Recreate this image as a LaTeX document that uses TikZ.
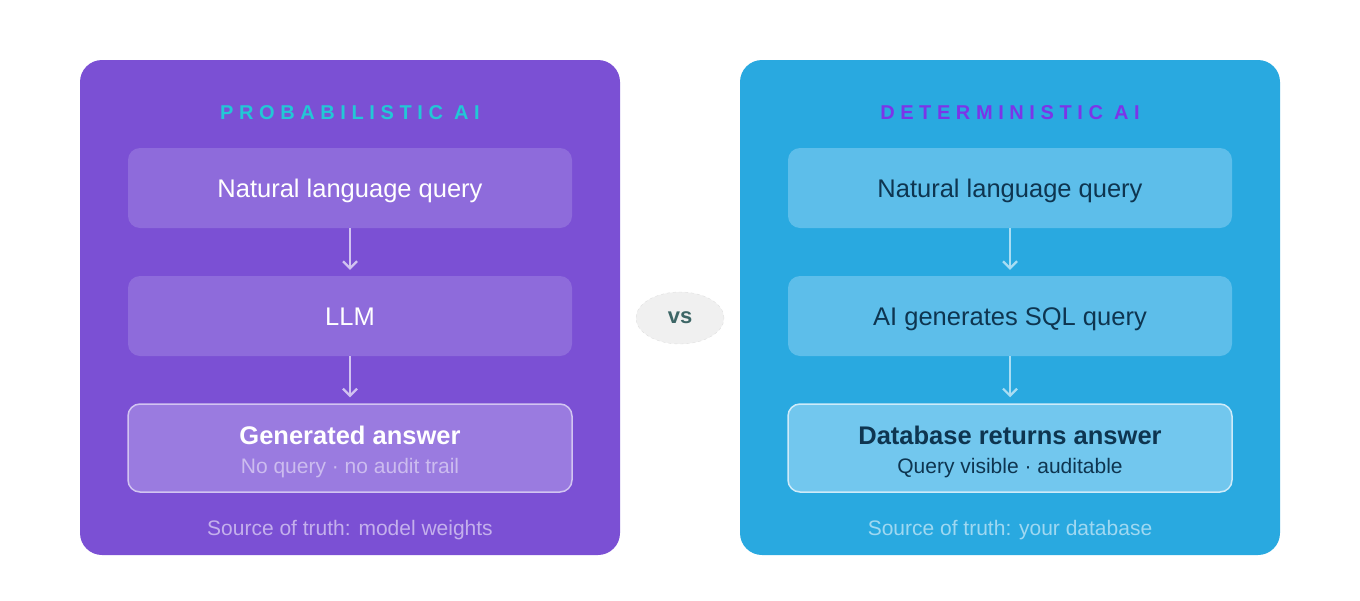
\documentclass[tikz,border=0pt]{standalone}
\usepackage{fontspec}
\usetikzlibrary{arrows.meta,shapes.geometric}
\setmainfont{Liberation Sans}
\newfontfamily\spaced[LetterSpace=28]{Liberation Sans}
\begin{document}
\begin{tikzpicture}[x=1pt,y=-1pt,
 panel/.style={rounded corners=22pt},
 box/.style={rounded corners=12pt,minimum width=444pt,minimum height=80pt,inner sep=0pt,text height=18pt,text depth=0pt},
 arr/.style={-{Straight Barb[length=7pt,width=14pt,line width=2.2pt]},line width=2.2pt,shorten >=6pt},
 big/.style={font=\fontsize{25.5}{30}\selectfont},
 title/.style={font=\spaced\bfseries\fontsize{20}{24}\selectfont},
 foot/.style={font=\fontsize{21}{24}\selectfont}]
\useasboundingbox (0,0) rectangle (1360,600);
\definecolor{lp}{HTML}{7B50D4}\definecolor{lb}{HTML}{8E6BDB}\definecolor{lb2}{HTML}{9A7BE0}
\definecolor{rp}{HTML}{29A9E0}\definecolor{rb}{HTML}{5DBEEA}\definecolor{rb2}{HTML}{72C7EE}
\definecolor{dk}{HTML}{0E3550}
\definecolor{tc}{HTML}{22C7D6}\definecolor{tv}{HTML}{7B35E8}
\fill[lp,panel] (80,60) rectangle (620,555);
\fill[rp,panel] (740,60) rectangle (1280,555);
\node[title,text=tc] (lt) at (350,113) {PROBABILISTIC AI};
\node[title,text=tv] (rt) at (1010,113) {DETERMINISTIC AI};
\node[box,fill=lb,text=white,big] (l1) at (350,188) {Natural language query};
\node[box,fill=lb,text=white,big] (l2) at (350,316) {LLM};
\node[box,fill=lb2,draw=white!60!lb,line width=1.5pt,minimum height=88pt] (l3) at (350,448) {};
\node[text=white,font=\bfseries\fontsize{25.5}{30}\selectfont] (l3a) at (350,435) {Generated answer};
\node[text=white!55!lb,font=\fontsize{21}{24}\selectfont] (l3b) at (350,468) {No query · no audit trail};
\node[box,fill=rb,text=dk,big] (r1) at (1010,188) {Natural language query};
\node[box,fill=rb,text=dk,big] (r2) at (1010,316) {AI generates SQL query};
\node[box,fill=rb2,draw=white!70!rb,line width=1.5pt,minimum height=88pt] (r3) at (1010,448) {};
\node[text=dk,font=\bfseries\fontsize{25.5}{30}\selectfont] (r3a) at (1010,435) {Database returns answer};
\node[text=dk,font=\fontsize{21}{24}\selectfont] (r3b) at (1010,468) {Query visible · auditable};
\draw[arr,draw=white!65!lp] (l1) -- (l2);
\draw[arr,draw=white!65!lp] (l2) -- (l3);
\draw[arr,draw=white!60!rp] (r1) -- (r2);
\draw[arr,draw=white!60!rp] (r2) -- (r3);
\node[foot,text=white!55!lp] (lf) at (350,530) {Source of truth: model weights};
\node[foot,text=white!55!rp] (rf) at (1010,530) {Source of truth: your database};
\node[ellipse,fill=gray!12,draw=gray!25,dashed,minimum width=88pt,minimum height=52pt,text=gray!60!teal!80!black,font=\bfseries\fontsize{22}{26}\selectfont] (vs) at (680,318) {vs};
\end{tikzpicture}
\end{document}
